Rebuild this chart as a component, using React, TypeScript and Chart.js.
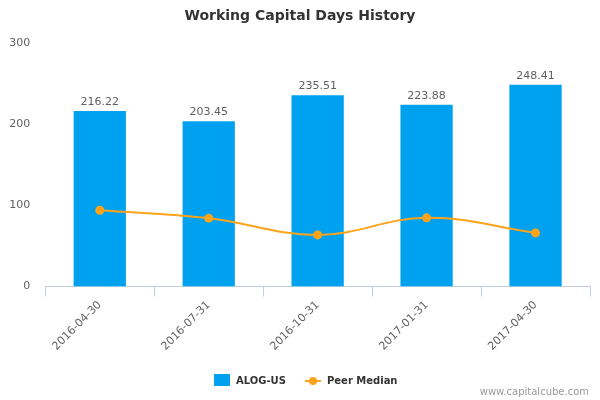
import React, { useEffect, useRef } from "react";
import { Chart, registerables } from "chart.js";

Chart.register(...registerables);

const categories = ["2016-04-30", "2016-07-31", "2016-10-31", "2017-01-31", "2017-04-30"];
const companyValues = [216.22, 203.45, 235.51, 223.88, 248.41];
const peerMedianValues = [94.0, 84.2, 63.6, 84.6, 66.0];
const yTicks = [0, 100, 200, 300];
const titleText = "Working Capital Days History";
const companyLabel = "ALOG-US";
const peerLabel = "Peer Median";
const watermark = "www.capitalcube.com";

const FONT = "'DejaVu Sans', sans-serif";
const BAR_COLOR = "#00a2f0";
const LINE_COLOR = "#ffa31a";
const TEXT_COLOR = "#606060";

const decorPlugin = {
  id: "decor",
  afterDatasetsDraw(chart: any) {
    const ctx = chart.ctx;
    ctx.save();
    const meta = chart.getDatasetMeta(0);
    ctx.font = `11px ${FONT}`;
    ctx.fillStyle = TEXT_COLOR;
    ctx.textAlign = "center";
    ctx.textBaseline = "middle";
    meta.data.forEach((el: any, i: number) => {
      ctx.fillText(companyValues[i].toFixed(2), el.x, el.y - 9);
    });
    ctx.restore();
  },
  afterDraw(chart: any) {
    const ctx = chart.ctx;
    ctx.save();
    ctx.font = `bold 14px ${FONT}`;
    ctx.fillStyle = "#333333";
    ctx.textAlign = "center";
    ctx.textBaseline = "middle";
    ctx.fillText(titleText, 300, 16);

    ctx.fillStyle = BAR_COLOR;
    ctx.fillRect(214, 374, 16, 12);
    ctx.font = `bold 10px ${FONT}`;
    ctx.fillStyle = "#333333";
    ctx.textAlign = "left";
    ctx.fillText(companyLabel, 236, 381);

    ctx.strokeStyle = LINE_COLOR;
    ctx.lineWidth = 2;
    ctx.beginPath();
    ctx.moveTo(305, 381);
    ctx.lineTo(321, 381);
    ctx.stroke();
    ctx.fillStyle = LINE_COLOR;
    ctx.beginPath();
    ctx.arc(313, 381, 4, 0, Math.PI * 2);
    ctx.fill();
    ctx.fillStyle = "#333333";
    ctx.fillText(peerLabel, 327, 381);

    ctx.font = `10px ${FONT}`;
    ctx.fillStyle = "#999999";
    ctx.textAlign = "right";
    ctx.fillText(watermark, 589, 392);
    ctx.restore();
  },
};

export default function App() {
  const canvasRef = useRef<HTMLCanvasElement | null>(null);

  useEffect(() => {
    document.body.style.margin = "0";
    const canvas = canvasRef.current;
    if (!canvas) return;
    const chart = new Chart(canvas, {
      type: "bar",
      data: {
        labels: categories,
        datasets: [
          {
            type: "bar",
            label: companyLabel,
            data: companyValues,
            backgroundColor: BAR_COLOR,
            borderWidth: 0,
            barPercentage: 0.48,
            categoryPercentage: 1,
            order: 2,
          },
          {
            type: "line",
            label: peerLabel,
            data: peerMedianValues,
            borderColor: LINE_COLOR,
            backgroundColor: LINE_COLOR,
            borderWidth: 2,
            pointRadius: 4.5,
            pointHoverRadius: 4.5,
            pointBorderWidth: 0,
            tension: 0.4,
            fill: false,
            order: 1,
          } as any,
        ],
      },
      options: {
        animation: false,
        responsive: false,
        maintainAspectRatio: false,
        devicePixelRatio: 1,
        layout: { padding: { top: 43, left: 0, right: 10, bottom: 0 } },
        plugins: {
          legend: { display: false },
          title: { display: false },
          tooltip: { enabled: false },
        },
        scales: {
          x: {
            offset: true,
            grid: {
              offset: true,
              drawOnChartArea: false,
              drawTicks: true,
              tickLength: 10,
              color: "#c0d0e0",
            },
            border: { display: true, color: "#c0d0e0", width: 1 },
            ticks: {
              minRotation: 45,
              maxRotation: 45,
              autoSkip: false,
              padding: 2,
              color: TEXT_COLOR,
              font: { family: FONT, size: 11 },
            },
            afterFit(scale: any) {
              scale.height = 113.5;
            },
          },
          y: {
            min: 0,
            max: 300,
            grid: { display: false, drawTicks: false },
            border: { display: false },
            afterBuildTicks(scale: any) {
              scale.ticks = yTicks.map((v) => ({ value: v }));
            },
            ticks: {
              padding: 15,
              color: TEXT_COLOR,
              font: { family: FONT, size: 11 },
            },
            afterFit(scale: any) {
              scale.width = 45.3;
            },
          },
        },
      },
      plugins: [decorPlugin],
    });
    return () => chart.destroy();
  }, []);

  return (
    <div style={{ position: "absolute", left: 0, top: 0, width: 600, height: 400, background: "#fff" }}>
      <canvas ref={canvasRef} width={600} height={400} style={{ width: 600, height: 400, display: "block" }} />
    </div>
  );
}
